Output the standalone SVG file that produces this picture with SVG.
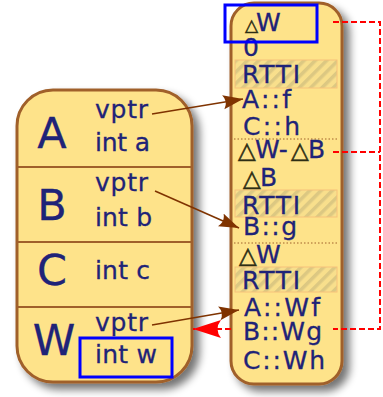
<svg xmlns="http://www.w3.org/2000/svg" width="383" height="397" viewBox="0 0 383 397">
<defs>
<filter id="sh" x="-20%" y="-20%" width="150%" height="150%">
<feGaussianBlur in="SourceAlpha" stdDeviation="4"/>
<feOffset dx="6" dy="6" result="b"/>
<feComponentTransfer><feFuncA type="linear" slope="0.55"/></feComponentTransfer>
<feMerge><feMergeNode/><feMergeNode in="SourceGraphic"/></feMerge>
</filter>
<pattern id="hatch" width="8" height="8" patternUnits="userSpaceOnUse" patternTransform="rotate(45)">
<rect width="8" height="8" fill="#f8df8c"/>
<rect width="3.5" height="8" fill="#dcc882"/>
</pattern>
<marker id="ab" markerWidth="22" markerHeight="16" refX="20" refY="8" orient="auto" markerUnits="userSpaceOnUse">
<path d="M0,1 L20,8 L0,15 Q5,8 0,1 Z" fill="#7f3300"/>
</marker>
<marker id="ar" markerWidth="30" markerHeight="20" refX="28" refY="10" orient="auto" markerUnits="userSpaceOnUse">
<path d="M0,1 L28,10 L0,19 Q7,10 0,1 Z" fill="#ff0000"/>
</marker>
</defs>
<style>
.node{fill:#fee38a;stroke:#a0602a;stroke-width:3}
.t{font-family:"DejaVu Sans",Verdana,sans-serif;fill:#1f2378;stroke:#1f2378;stroke-width:0.3}
.big{font-size:43px;text-anchor:middle}
.lbl{font-size:25px}
.r{font-size:25px}
.tri{fill:#2d2d14;stroke:#2d2d14;stroke-width:0.5}
.div{stroke:#a0602a;stroke-width:2}
.dot{stroke:#a0602a;stroke-width:1;stroke-dasharray:1.5,2}
.rtti{fill:url(#hatch);stroke:#f6c27a;stroke-width:1}
.blue{fill:none;stroke:#0000ff;stroke-width:3}
.brown{fill:none;stroke:#7f3300;stroke-width:1.6}
.red{fill:none;stroke:#ff0000;stroke-width:2;stroke-dasharray:6,3}
</style>
<g id="object">
<rect class="node" x="17" y="90" width="175" height="292" rx="36" filter="url(#sh)"/>
<line class="div" x1="18" y1="167" x2="191" y2="167"/>
<line class="div" x1="18" y1="242" x2="191" y2="242"/>
<line class="div" x1="18" y1="307" x2="191" y2="307"/>
<text class="t big" x="52" y="148">A</text>
<text class="t lbl" x="95" y="118" textLength="53">vptr</text>
<text class="t lbl" x="95" y="151" textLength="55">int a</text>
<text class="t big" x="52" y="220">B</text>
<text class="t lbl" x="95" y="191" textLength="53">vptr</text>
<text class="t lbl" x="95" y="226" textLength="57">int b</text>
<text class="t big" x="52" y="285">C</text>
<text class="t lbl" x="95" y="279" textLength="55">int c</text>
<text class="t big" x="54" y="355">W</text>
<text class="t lbl" x="95" y="331" textLength="53">vptr</text>
<text class="t lbl" x="95" y="363" textLength="62">int w</text>
<rect class="blue" x="80" y="338" width="92" height="39"/>
</g>
<g id="vtable">
<rect class="node" x="231" y="3" width="111" height="381" rx="23" filter="url(#sh)"/>
<rect class="rtti" x="235" y="60" width="102" height="28"/>
<rect class="rtti" x="235" y="190" width="102" height="27"/>
<rect class="rtti" x="235" y="267" width="102" height="25"/>
<line class="dot" x1="234" y1="139" x2="339" y2="139"/>
<line class="dot" x1="234" y1="243" x2="339" y2="243"/>
<text class="t r" y="31"><tspan class="tri" x="245" font-size="17">△</tspan><tspan x="256">W</tspan></text>
<text class="t r" x="243" y="56" font-size="26">0</text>
<text class="t r" x="242" y="83" textLength="58">RTTI</text>
<text class="t r" x="242" y="108" textLength="49">A::f</text>
<text class="t r" x="243" y="135" textLength="57">C::h</text>
<text class="t r" font-size="24" y="158"><tspan class="tri" x="238" font-size="23">△</tspan><tspan x="255">W-</tspan><tspan class="tri" x="291" font-size="23">△</tspan><tspan x="308">B</tspan></text>
<text class="t r" font-size="24" y="186"><tspan class="tri" x="243" font-size="23">△</tspan><tspan x="260">B</tspan></text>
<text class="t r" x="242" y="214" textLength="58">RTTI</text>
<text class="t r" x="243" y="235" textLength="54">B::g</text>
<text class="t r" font-size="24" y="263"><tspan class="tri" x="239" font-size="23">△</tspan><tspan x="256">W</tspan></text>
<text class="t r" x="242" y="289" textLength="58">RTTI</text>
<text class="t r" x="244" y="316" textLength="76">A::Wf</text>
<text class="t r" x="243" y="340" textLength="79">B::Wg</text>
<text class="t r" x="243" y="369" textLength="82">C::Wh</text>
<rect class="blue" x="225" y="5" width="92" height="37"/>
</g>
<g id="connectors">
<path class="brown" d="M152,114 L243,99" marker-end="url(#ab)"/>
<path class="brown" d="M155,191 L239,228" marker-end="url(#ab)"/>
<path class="brown" d="M152,325 L239,310" marker-end="url(#ab)"/>
<path class="red" d="M333,22 H380 V329 H333"/>
<path class="red" d="M333,152 H380"/>
<path class="red" d="M231,329 H193" marker-end="url(#ar)"/>
</g>
</svg>
